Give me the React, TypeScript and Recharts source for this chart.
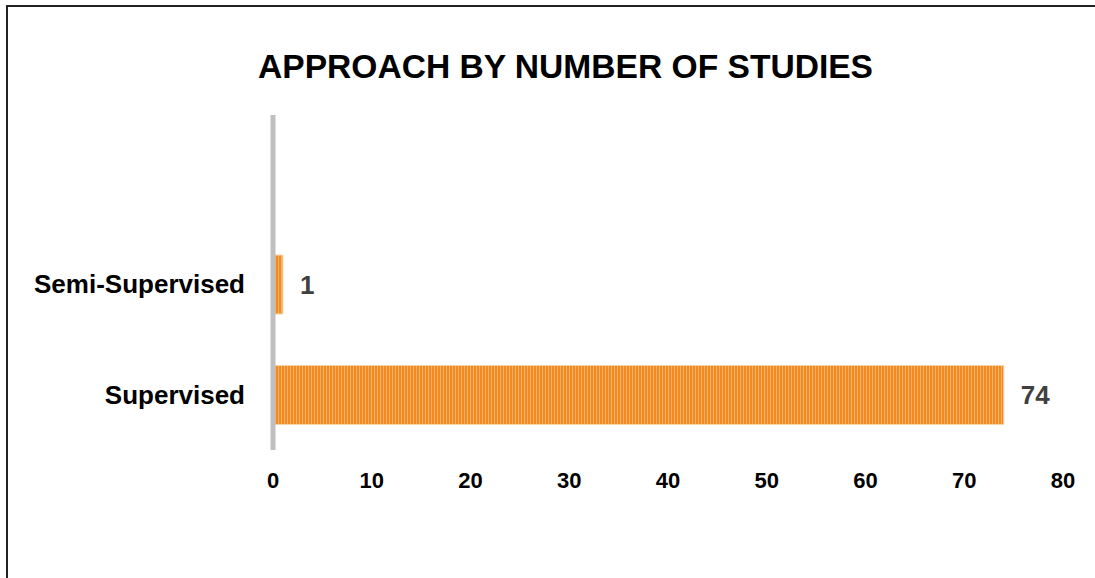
import { BarChart, Bar, XAxis, YAxis, LabelList } from "recharts";

const approaches = ["Semi-Supervised", "Supervised"];
const studies = [1, 74];
const xTicks = [0, 10, 20, 30, 40, 50, 60, 70, 80];

const data = approaches.map((name, i) => ({ name, studies: studies[i] }));

const FONT = '"Liberation Sans", Arial, sans-serif';

export default function App() {
  return (
    <div
      style={{
        position: "fixed",
        left: 0,
        top: 0,
        width: 1095,
        height: 578,
        background: "#fff",
        fontFamily: FONT,
      }}
    >
      <div
        style={{
          position: "absolute",
          left: 6,
          top: 5,
          right: 0,
          bottom: 0,
          borderLeft: "2px solid #222",
          borderTop: "2px solid #222",
        }}
      />
      <div
        style={{
          position: "absolute",
          left: 0,
          width: 1131,
          top: 47,
          textAlign: "center",
          fontSize: 33.6,
          fontWeight: 700,
          lineHeight: "40px",
          color: "#000",
        }}
      >
        APPROACH BY NUMBER OF STUDIES
      </div>
      <BarChart
        width={1095}
        height={578}
        data={data}
        layout="vertical"
        margin={{ top: 115, right: 32, bottom: 88, left: 23 }}
        style={{ position: "absolute", left: 0, top: 0 }}
      >
        <defs>
          <pattern id="stripes" width="3" height="10" patternUnits="userSpaceOnUse">
            <rect width="3" height="10" fill="#F28A1F" />
            <rect x="2" width="1" height="10" fill="#F8B26A" />
          </pattern>
        </defs>
        <XAxis
          type="number"
          domain={[0, 80]}
          ticks={xTicks}
          height={40}
          axisLine={false}
          tickLine={false}
          tickSize={0}
          tickMargin={22}
          tick={{ fill: "#000", fontSize: 22, fontWeight: 700, fontFamily: FONT }}
        />
        <YAxis
          type="category"
          dataKey="name"
          width={250}
          padding={{ top: 114, bottom: 0 }}
          axisLine={{ stroke: "#bfbfbf", strokeWidth: 5 }}
          tickLine={false}
          tickSize={0}
          tickMargin={28}
          tick={{ fill: "#000", fontSize: 26, fontWeight: 700, fontFamily: FONT }}
        />
        <Bar
          dataKey="studies"
          fill="url(#stripes)"
          stroke="#FBD3A8"
          strokeWidth={1}
          barSize={59}
          isAnimationActive={false}
        >
          <LabelList
            dataKey="studies"
            position="right"
            offset={17}
            fill="#404040"
            style={{ fontSize: 26, fontWeight: 700, fontFamily: FONT }}
          />
        </Bar>
      </BarChart>
    </div>
  );
}
